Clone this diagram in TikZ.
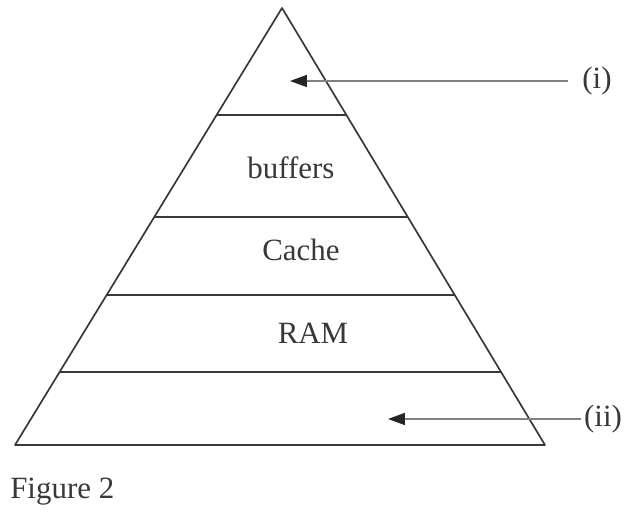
\documentclass[tikz,border=0pt]{standalone}
\usepackage{fontspec}
\setmainfont{Liberation Serif}
\usetikzlibrary{positioning, arrows.meta, calc}
\definecolor{inkgray}{gray}{0.22}

\begin{document}
\begin{tikzpicture}
[x=0.025cm, y=-0.025cm,
 edge/.style={draw=inkgray, line width=1.2pt},
 lvl/.style={font=\fontsize{22}{26}\selectfont, text=inkgray, inner sep=0pt},
 ->/.style={draw=gray, line width=1.1pt, arrows={-{Triangle[length=12pt, width=8.5pt, color=black!85, fill=black!85]}}}]

\useasboundingbox (0,0) rectangle (634,517);

% outline of the pyramid
\coordinate (T) at (282,8);
\coordinate (L) at (15,445);
\coordinate (R) at (545,445);
\draw[edge, line join=round] (T) -- (L) -- (R) -- cycle;

% layer boundaries
\foreach \t in {0.245, 0.478, 0.657, 0.833}
  \draw[edge] ($(T)!\t!(L)$) -- ($(T)!\t!(R)$);

% layer labels
\node[lvl] (buf) at (291,168) {buffers};
\node[lvl] (cache) at (301,250) {Cache};
\node[lvl] (ram) at (313,333) {RAM};

% pointers (i) and (ii)
\node[lvl] (p1) at (597,81) {(i)};
\node[lvl] (p2) at (603,419) {(ii)};
\coordinate (t1) at (290,0);
\coordinate (t2) at (388,0);
\draw[->] ([xshift=-10pt]p1.west) -- (p1.west -| t1);
\draw[->] ([xshift=-2pt]p2.west) -- (p2.west -| t2);

% caption
\node[lvl, anchor=west] (fig) at (10,492) {Figure 2};

\end{tikzpicture}
\end{document}
